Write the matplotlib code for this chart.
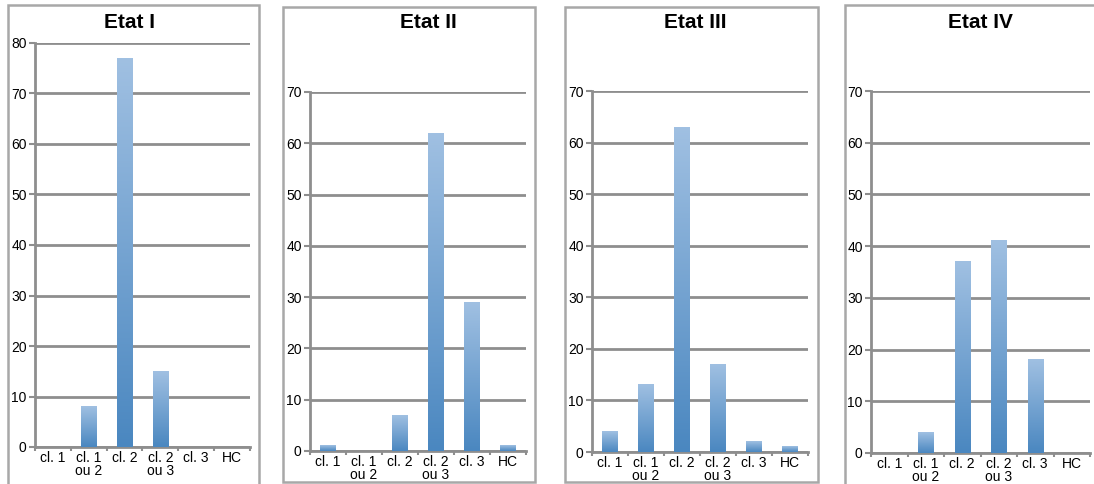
import numpy as np
import matplotlib.pyplot as plt
from matplotlib.patches import Rectangle
from matplotlib.colors import LinearSegmentedColormap

plt.rcParams['font.family'] = ['Liberation Sans', 'DejaVu Sans']

# Data
categories = ["cl. 1", "cl. 1\nou 2", "cl. 2", "cl. 2\nou 3", "cl. 3", "HC"]
titles = ["Etat I", "Etat II", "Etat III", "Etat IV"]
etat1 = [0, 8, 77, 15, 0, 0]
etat2 = [1, 0, 7, 62, 29, 1]
etat3 = [4, 13, 63, 17, 2, 1]
etat4 = [0, 4, 37, 41, 18, 0]
ymax = [80, 70, 70, 70]

W, H = 1094, 484
fig = plt.figure(figsize=(W / 100, H / 100), dpi=100)

# bar gradient: dark blue at bottom, light blue at top
cmap = LinearSegmentedColormap.from_list("bar", ["#4a87c0", "#a0c0e2"])
grad = np.linspace(0, 1, 256).reshape(-1, 1)

# pixel layout: (axes left, right, top, bottom), panel box (left, top, right, bottom), title x
axes_px = [(35, 250, 43, 447), (310, 526, 92, 451), (592, 808, 91, 452), (871, 1090, 91, 453)]
box_px = [(8, 5, 259, 490), (283, 7, 535, 482), (565, 7, 818, 482), (845, 5, 1100, 490)]
title_x = [130, 428, 695, 980]

grid_col = "#8e8e8e"

for i, vals in enumerate([etat1, etat2, etat3, etat4]):
    bl, bt, br, bb = box_px[i]
    fig.patches.append(Rectangle((bl / W, 1 - bb / H), (br - bl) / W, (bb - bt) / H,
                                 transform=fig.transFigure, fill=False,
                                 edgecolor="#a8a8a8", linewidth=1.8))
    l, r, t, b = axes_px[i]
    ax = fig.add_axes([l / W, 1 - b / H, (r - l) / W, (b - t) / H])
    x = np.arange(len(categories))
    bw = 0.42
    for xi, v in zip(x, vals):
        if v > 0:
            ax.imshow(grad, extent=(xi - bw / 2, xi + bw / 2, 0, v), origin="lower",
                      cmap=cmap, aspect="auto", zorder=3)
    ax.set_xlim(-0.5, len(categories) - 0.5)
    ax.set_ylim(0, ymax[i])
    ax.set_yticks(np.arange(0, ymax[i] + 1, 10))
    ax.yaxis.grid(True, color=grid_col, linewidth=2)
    ax.set_axisbelow(True)
    for s in ["top", "right"]:
        ax.spines[s].set_visible(False)
    ax.spines["left"].set_color(grid_col)
    ax.spines["left"].set_linewidth(2)
    ax.spines["bottom"].set_color(grid_col)
    ax.spines["bottom"].set_linewidth(2)
    ax.set_xticks(x)
    ax.set_xticklabels(categories, fontsize=10, linespacing=0.9)
    ax.set_xticks(np.arange(-0.5, len(categories)), minor=True)
    ax.tick_params(axis="x", which="major", length=0, pad=3)
    ax.tick_params(axis="x", which="minor", length=3, color=grid_col, width=1.5)
    ax.tick_params(axis="y", length=4, color=grid_col, width=1.5, labelsize=10, pad=2)
    fig.text(title_x[i] / W, 1 - 23 / H, titles[i], ha="center", va="center",
             fontsize=15, fontweight="bold")

fig.savefig("out.png", dpi=100)
